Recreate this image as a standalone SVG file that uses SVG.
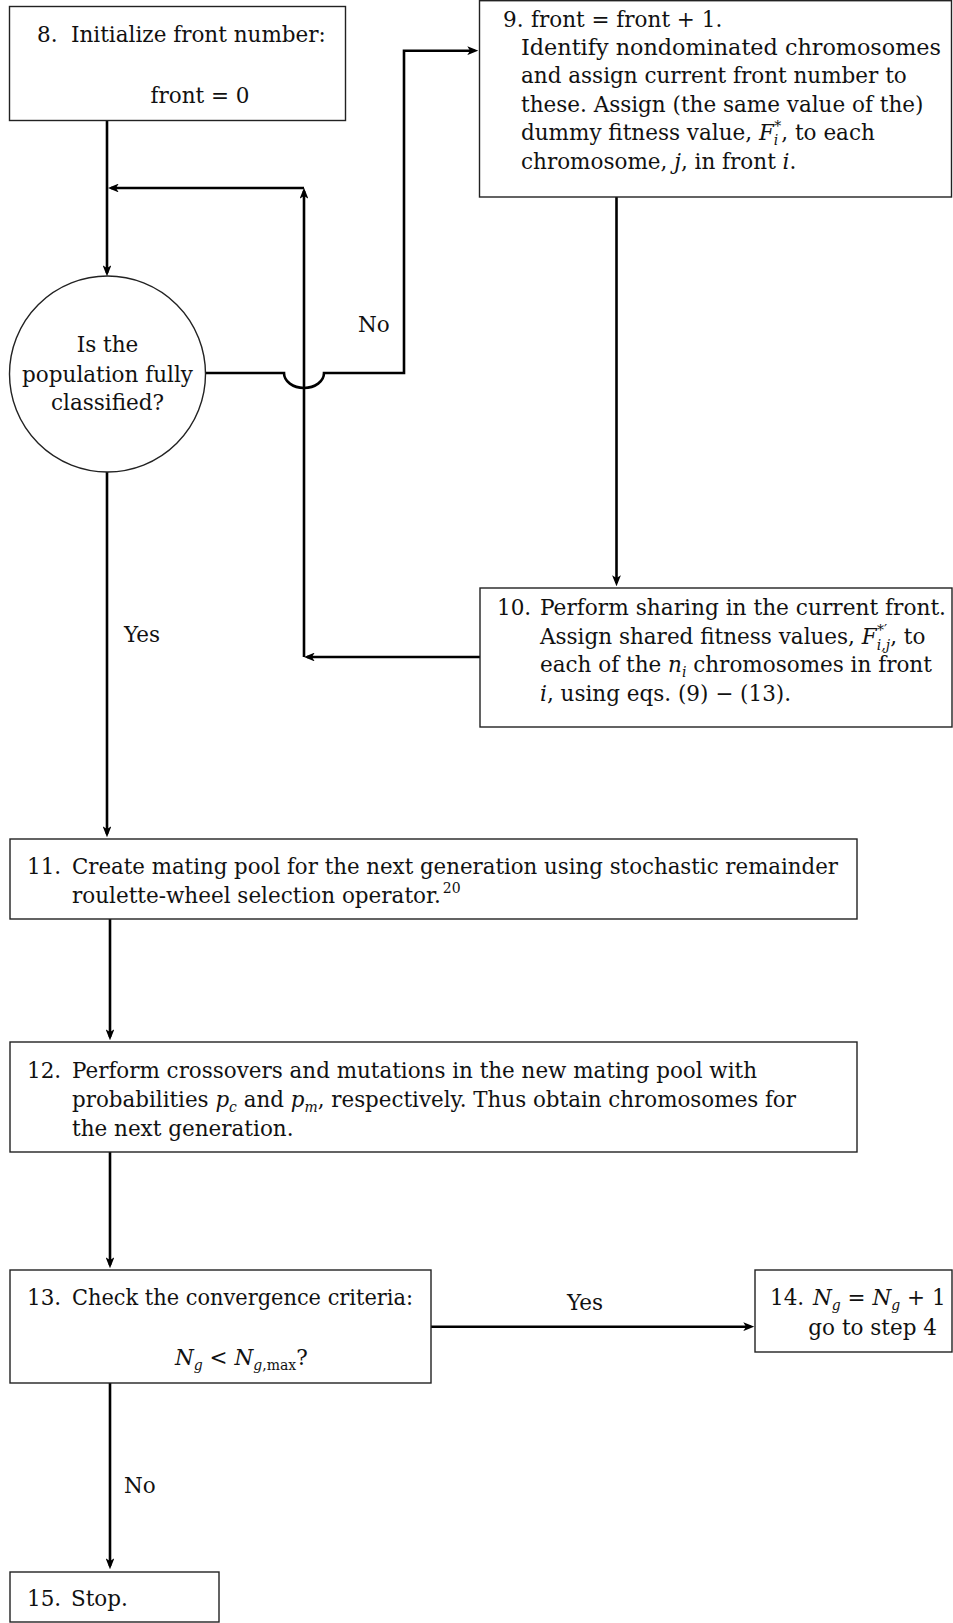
<svg xmlns="http://www.w3.org/2000/svg" width="953" height="1623" viewBox="0 0 953 1623">
<defs>
<style>
.t{font-family:"DejaVu Serif","Liberation Serif",serif;font-size:21.5px;fill:#111}
.it{font-style:italic}
.sm{font-size:14px}
.box{fill:#fff;stroke:#222;stroke-width:1.4}
.conn{fill:none;stroke:#000;stroke-width:2.6}
</style>
<marker id="ah" viewBox="0 0 10 8" refX="7" refY="4" markerWidth="11" markerHeight="8.8" markerUnits="userSpaceOnUse" orient="auto">
<path d="M0,0 L10,4 L0,8 L2.5,4 z" fill="#000"/>
</marker>
</defs>
<rect width="953" height="1623" fill="#fff"/>

<g id="connectors">
<path class="conn" d="M107,120 V273" marker-end="url(#ah)"/>
<path class="conn" d="M480,657 H307" marker-end="url(#ah)"/>
<path class="conn" d="M304,657 V191" marker-end="url(#ah)"/>
<path class="conn" d="M304,188 H111" marker-end="url(#ah)"/>
<path class="conn" d="M205.5,373 H284 A20,15 0 0 0 324,373 H404 V50.7 H475" marker-end="url(#ah)"/>
<path class="conn" d="M107,472 V834" marker-end="url(#ah)"/>
<path class="conn" d="M616.5,197 V583" marker-end="url(#ah)"/>
<path class="conn" d="M110,919 V1037" marker-end="url(#ah)"/>
<path class="conn" d="M110,1152 V1265" marker-end="url(#ah)"/>
<path class="conn" d="M431,1326.7 H751" marker-end="url(#ah)"/>
<path class="conn" d="M110,1383 V1566" marker-end="url(#ah)"/>
<text class="t" x="358" y="332">No</text>
<text class="t" x="124" y="642">Yes</text>
<text class="t" x="567" y="1310">Yes</text>
<text class="t" x="124" y="1493">No</text>
</g>

<g id="n8">
<rect class="box" x="9.5" y="6.5" width="336" height="114"/>
<text class="t" x="37" y="42">8.</text>
<text class="t" x="71" y="42">Initialize front number:</text>
<text class="t" x="200" y="103" text-anchor="middle">front = 0</text>
</g>

<g id="n9">
<rect class="box" x="479.5" y="0.7" width="472" height="196.3"/>
<text class="t" x="503" y="26.7">9.</text>
<text class="t" x="531" y="26.7">front = front + 1.</text>
<text class="t" x="521" y="55" textLength="420" lengthAdjust="spacingAndGlyphs">Identify nondominated chromosomes</text>
<text class="t" x="521" y="83.4">and assign current front number to</text>
<text class="t" x="521" y="111.8">these. Assign (the same value of the)</text>
<text class="t" x="521" y="140.2">dummy fitness value, <tspan class="it">F</tspan><tspan class="sm it" dy="5">i</tspan><tspan class="sm" dx="-4" dy="-14">*</tspan><tspan dy="9">, to each</tspan></text>
<text class="t" x="521" y="168.6">chromosome, <tspan class="it">j</tspan>, in front <tspan class="it">i</tspan>.</text>
</g>

<g id="decision">
<circle cx="107.5" cy="374" r="98" fill="#fff" stroke="#222" stroke-width="1.4"/>
<text class="t" x="107.5" y="352" text-anchor="middle">Is the</text>
<text class="t" x="107.5" y="381.5" text-anchor="middle">population fully</text>
<text class="t" x="107.5" y="410" text-anchor="middle">classified?</text>
</g>

<g id="n10">
<rect class="box" x="480" y="588" width="472" height="139"/>
<text class="t" x="497" y="615">10.</text>
<text class="t" x="540" y="615" textLength="406" lengthAdjust="spacingAndGlyphs">Perform sharing in the current front.</text>
<text class="t" x="540" y="643.5">Assign shared fitness values, <tspan class="it">F</tspan><tspan class="sm it" dy="6">i,j</tspan><tspan class="sm" dx="-13" dy="-15">*′</tspan><tspan dy="9" dx="3">, to</tspan></text>
<text class="t" x="540" y="672">each of the <tspan class="it">n</tspan><tspan class="sm it" dy="5">i</tspan><tspan dy="-5"> chromosomes in front</tspan></text>
<text class="t" x="540" y="700.5"><tspan class="it">i</tspan>, using eqs. (9) − (13).</text>
</g>

<g id="n11">
<rect class="box" x="10" y="839" width="847" height="80"/>
<text class="t" x="27" y="874">11.</text>
<text class="t" x="72" y="874" textLength="766" lengthAdjust="spacingAndGlyphs">Create mating pool for the next generation using stochastic remainder</text>
<text class="t" x="72" y="903">roulette-wheel selection operator.<tspan class="sm" dx="2" dy="-10">20</tspan></text>
</g>

<g id="n12">
<rect class="box" x="10" y="1042" width="847" height="110"/>
<text class="t" x="27" y="1078">12.</text>
<text class="t" x="72" y="1078" textLength="685" lengthAdjust="spacingAndGlyphs">Perform crossovers and mutations in the new mating pool with</text>
<text class="t" x="72" y="1107" textLength="724" lengthAdjust="spacingAndGlyphs">probabilities <tspan class="it">p</tspan><tspan class="sm it" dy="5">c</tspan><tspan dy="-5"> and </tspan><tspan class="it">p</tspan><tspan class="sm it" dy="5">m</tspan><tspan dy="-5">, respectively. Thus obtain chromosomes for</tspan></text>
<text class="t" x="72" y="1136">the next generation.</text>
</g>

<g id="n13">
<rect class="box" x="10" y="1270" width="421" height="113"/>
<text class="t" x="27" y="1305">13.</text>
<text class="t" x="72" y="1305" textLength="341" lengthAdjust="spacingAndGlyphs">Check the convergence criteria:</text>
<text class="t" x="175" y="1365"><tspan class="it">N</tspan><tspan class="sm it" dy="5">g</tspan><tspan dy="-5"> &lt; </tspan><tspan class="it">N</tspan><tspan class="sm" dy="5"><tspan class="it">g</tspan>,max</tspan><tspan dy="-5">?</tspan></text>
</g>

<g id="n14">
<rect class="box" x="755" y="1270" width="197" height="82"/>
<text class="t" x="770" y="1305">14.</text>
<text class="t" x="813" y="1305"><tspan class="it">N</tspan><tspan class="sm it" dy="5">g</tspan><tspan dy="-5"> = </tspan><tspan class="it">N</tspan><tspan class="sm it" dy="5">g</tspan><tspan dy="-5"> + 1</tspan></text>
<text class="t" x="937" y="1335" text-anchor="end">go to step 4</text>
</g>

<g id="n15">
<rect class="box" x="10" y="1572" width="209" height="50"/>
<text class="t" x="27" y="1606">15.</text>
<text class="t" x="71" y="1606">Stop.</text>
</g>
</svg>
